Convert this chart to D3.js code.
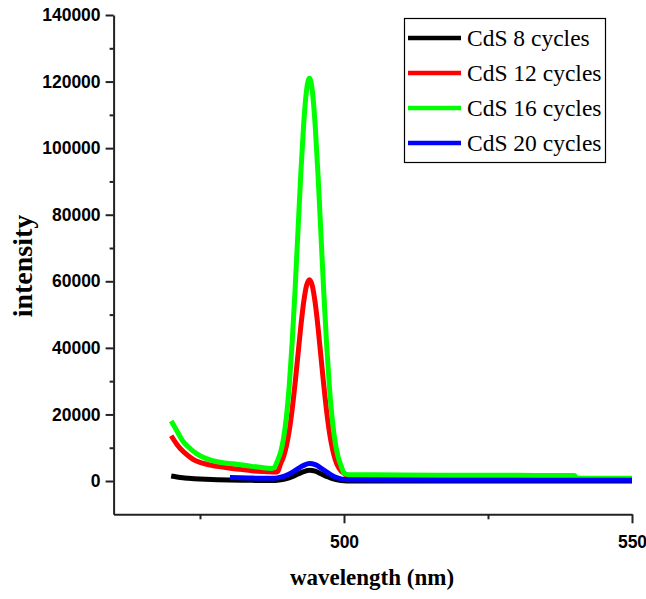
<!DOCTYPE html>
<html>
<head>
<meta charset="utf-8">
<script src="https://cdn.jsdelivr.net/npm/d3@7"></script>
<style>
  html, body { margin: 0; padding: 0; background: #fff; }
  svg { display: block; }
</style>
</head>
<body>
<svg id="chart" width="646" height="599"></svg>
<script>
// Photoluminescence spectra of CdS films for different deposition cycles
const seriesNames = ["CdS 8 cycles", "CdS 12 cycles", "CdS 16 cycles", "CdS 20 cycles"];
const seriesColors = ["#000000", "#ff0000", "#00ff00", "#0000ff"];

const wl8 = [470, 471, 472, 473, 474, 476, 478, 480, 483, 486, 488, 489, 490, 491, 492, 493, 494, 495, 496, 497, 498, 499, 500, 501, 505, 520, 550];
const int8 = [1500, 1200, 950, 800, 680, 500, 380, 300, 220, 150, 180, 350, 700, 1300, 2100, 2800, 3200, 2950, 2200, 1400, 700, 300, 100, 30, 0, 0, 0];

const wl12 = [470, 471, 472, 473, 474, 475, 476, 477, 478, 480, 482, 484, 486, 487, 488,
  488.5, 489, 489.5, 490, 490.5, 491, 491.5, 492, 492.5, 493, 493.5, 494, 494.5, 495, 495.5, 496, 496.5, 497, 497.5, 498, 498.5, 499, 499.5, 500, 500.5,
  501, 510, 520, 530, 540];
const int12 = [13600, 11000, 9000, 7500, 6300, 5600, 5100, 4700, 4400, 3900, 3500, 3100, 2850, 2750, 2700,
  2900, 5270, 7300, 10500, 15200, 21500, 29200, 37800, 46400, 53750, 58800, 60500, 58650, 53500, 46050, 37300, 28600, 20750, 14340, 9600, 6310, 4220, 2980, 2300, 1700,
  1650, 1600, 1600, 1550, 1550];

const wl16 = [470, 471, 472, 473, 474, 475, 476, 477, 478, 479, 480, 482, 484, 486, 487, 487.5,
  488, 488.5, 489, 489.5, 490, 490.5, 491, 491.5, 492, 492.5, 493, 493.5, 494, 494.5, 495, 495.5, 496, 496.5, 497, 497.5, 498, 498.5, 499, 499.5, 500, 500.5,
  501, 505, 510, 520, 530, 540, 540.5, 545, 550];
const int16 = [18000, 15000, 12000, 10200, 8700, 7600, 6800, 6200, 5800, 5500, 5300, 4900, 4400, 4000, 3800, 3750,
  4300, 6300, 8700, 12800, 19300, 28800, 41600, 57300, 74800, 92300, 107200, 117400, 121000, 117200, 106800, 91700, 74000, 56300, 40500, 27550, 17900, 11300, 7100, 4550, 2400, 2000,
  1900, 1850, 1800, 1750, 1700, 1650, 850, 800, 800];

const wl20 = [480.2, 482, 484, 486, 487, 488, 489, 490, 491, 492, 493, 494, 495, 496, 497, 498, 499, 500, 501, 505, 520, 540, 550];
const int20 = [1100, 1000, 900, 800, 800, 850, 1150, 1700, 2600, 3700, 4700, 5250, 4900, 3900, 2700, 1600, 900, 500, 350, 300, 250, 250, 250];

const xTickValues = [475, 500, 525, 550];
const xTickLabels = ["", "500", "", "550"];
const yTickValues = [0, 20000, 40000, 60000, 80000, 100000, 120000, 140000];
const yMinorValues = [10000, 30000, 50000, 70000, 90000, 110000, 130000];

const series = [
  { name: seriesNames[0], color: seriesColors[0], x: wl8, y: int8 },
  { name: seriesNames[1], color: seriesColors[1], x: wl12, y: int12 },
  { name: seriesNames[2], color: seriesColors[2], x: wl16, y: int16 },
  { name: seriesNames[3], color: seriesColors[3], x: wl20, y: int20 }
];

const svg = d3.select("#chart");

const x = d3.scaleLinear().domain([460, 550]).range([113.6, 632]);
const y = d3.scaleLinear().domain([-10000, 140000]).range([514.3, 15]);

// spectra
const line = d3.line()
  .x(d => x(d[0]))
  .y(d => y(d[1]))
  .curve(d3.curveMonotoneX);

const plot = svg.append("g");
series.forEach(s => {
  plot.append("path")
    .datum(s.x.map((v, i) => [v, s.y[i]]))
    .attr("fill", "none")
    .attr("stroke", s.color)
    .attr("stroke-width", 5)
    .attr("stroke-linejoin", "round")
    .attr("stroke-linecap", "butt")
    .attr("d", line);
});

// axes
const tickFont = "'Liberation Sans', Arial, sans-serif";

const xAxis = svg.append("g")
  .attr("transform", `translate(0,${y(-10000)})`)
  .call(d3.axisBottom(x).tickValues(xTickValues).tickSize(9).tickPadding(12)
    .tickFormat((d, i) => xTickLabels[i]).tickSizeOuter(0));
xAxis.select(".domain").attr("stroke", "#222").attr("stroke-width", 2);
xAxis.selectAll(".tick line").attr("stroke", "#222").attr("stroke-width", 2);
xAxis.selectAll(".tick text")
  .attr("font-family", tickFont).attr("font-weight", "bold").attr("font-size", 17.5).attr("fill", "#000");
xAxis.selectAll(".tick").filter(d => xTickLabels[xTickValues.indexOf(d)] === "")
  .select("line").attr("y2", 5);

const yAxis = svg.append("g")
  .attr("transform", `translate(${x(460)},0)`)
  .call(d3.axisLeft(y).tickValues(yTickValues).tickSize(8).tickPadding(5)
    .tickFormat(d3.format("d")).tickSizeOuter(0));
yAxis.select(".domain").attr("stroke", "#222").attr("stroke-width", 2);
yAxis.selectAll(".tick line").attr("stroke", "#222").attr("stroke-width", 2);
yAxis.selectAll(".tick text")
  .attr("font-family", tickFont).attr("font-weight", "bold").attr("font-size", 17.5).attr("fill", "#000");

const yMinor = svg.append("g")
  .attr("transform", `translate(${x(460)},0)`)
  .call(d3.axisLeft(y).tickValues(yMinorValues).tickSize(4).tickFormat(""));
yMinor.select(".domain").remove();
yMinor.selectAll(".tick line").attr("stroke", "#222").attr("stroke-width", 2);

// axis titles
const titleFont = "'Liberation Serif', 'Times New Roman', serif";
svg.append("text")
  .attr("x", 372).attr("y", 585)
  .attr("text-anchor", "middle")
  .attr("font-family", titleFont).attr("font-weight", "bold").attr("font-size", 23)
  .text("wavelength (nm)");

svg.append("text")
  .attr("transform", "translate(32,266) rotate(-90)")
  .attr("text-anchor", "middle")
  .attr("font-family", titleFont).attr("font-weight", "bold").attr("font-size", 28)
  .text("intensity");

// legend
const legend = svg.append("g");
legend.append("rect")
  .attr("x", 404.5).attr("y", 18.5).attr("width", 201).attr("height", 144)
  .attr("fill", "#fff").attr("stroke", "#000").attr("stroke-width", 1.2);
series.forEach((s, i) => {
  const ly = 38 + i * 35;
  legend.append("line")
    .attr("x1", 408).attr("x2", 461).attr("y1", ly).attr("y2", ly)
    .attr("stroke", s.color).attr("stroke-width", 4.5);
  legend.append("text")
    .attr("x", 467).attr("y", ly + 7.5)
    .attr("font-family", titleFont).attr("font-size", 23.5).attr("fill", "#000")
    .text(s.name);
});
</script>
</body>
</html>
